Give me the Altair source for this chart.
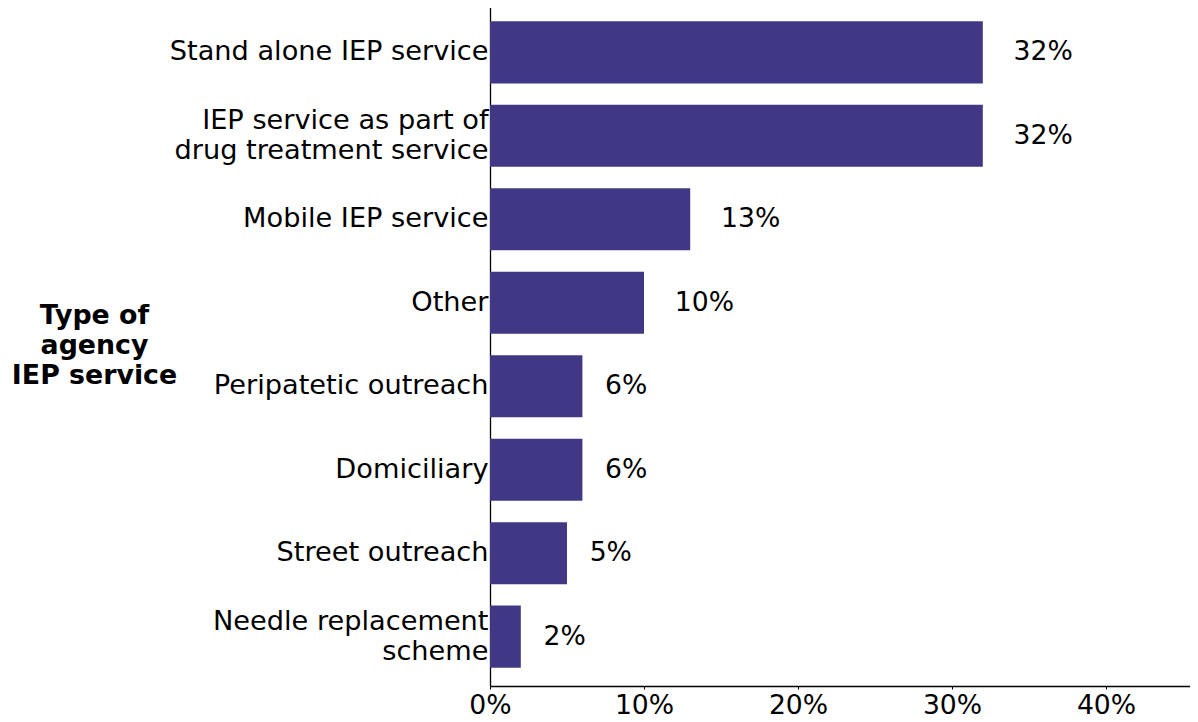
import altair as alt
import pandas as pd

categories = [
    "Stand alone IEP service",
    "IEP service as part of\ndrug treatment service",
    "Mobile IEP service",
    "Other",
    "Peripatetic outreach",
    "Domiciliary",
    "Street outreach",
    "Needle replacement\nscheme",
]
values = [0.32, 0.32, 0.13, 0.10, 0.06, 0.06, 0.05, 0.02]
labels = ["32%", "32%", "13%", "10%", "6%", "6%", "5%", "2%"]
x_ticks = [0.0, 0.1, 0.2, 0.3, 0.4]
axis_title = ["Type of", "agency", "IEP service"]

df = pd.DataFrame({"category": categories, "value": values, "label": labels})

FS = 26.67
W = 700
H = 683
XMAX = W / 1540.0

y_enc = alt.Y(
    "category:N",
    sort=None,
    scale=alt.Scale(paddingInner=0.257, paddingOuter=0.22),
    axis=alt.Axis(
        title=axis_title,
        titleAngle=0,
        titleAlign="center",
        titleBaseline="middle",
        titleX=-396,
        titleY=312,
        titleFontSize=26.8,
        titleFontWeight="bold",
        titleLineHeight=30,
        titleColor="black",
        labelExpr="split(datum.label, '\\n')",
        labelFontSize=27.2,
        labelLineHeight=30,
        labelColor="black",
        labelPadding=2,
        labelLimit=0,
        labelOffset={
            "condition": {"test": "indexof(datum.label, '\\n') >= 0", "value": -15},
            "value": 0,
        },
        ticks=False,
        domainColor="black",
        domainWidth=1.3,
        grid=False,
    ),
)

base = alt.Chart(df)

bars = base.mark_bar(color="#403785").encode(
    x=alt.X(
        "value:Q",
        scale=alt.Scale(domain=[0, XMAX], nice=False, zero=True),
        axis=alt.Axis(
            title=None,
            values=x_ticks,
            format=".0%",
            labelFontSize=FS,
            labelColor="black",
            labelPadding=3,
            tickSize=3,
            tickColor="black",
            domainColor="black",
            domainWidth=1.3,
            grid=False,
            labelFlush=False,
        ),
    ),
    y=y_enc,
)

text = base.transform_calculate(
    xpos="datum.value + (datum.value < 0.1 ? 0.0147 : 0.02)"
).mark_text(
    align="left", baseline="middle", fontSize=FS, color="black"
).encode(
    x=alt.X("xpos:Q"),
    y=alt.Y("category:N", sort=None),
    text="label:N",
)

chart = (
    alt.layer(bars, text)
    .properties(
        width=W,
        height=H,
        autosize=alt.AutoSizeParams(type="none"),
        padding={"left": 482, "top": -5, "right": 0, "bottom": 36},
    )
    .configure(font="DejaVu Sans")
    .configure_view(stroke=None)
)

chart.save("out.html", embed_options={"renderer": "svg", "actions": False})
